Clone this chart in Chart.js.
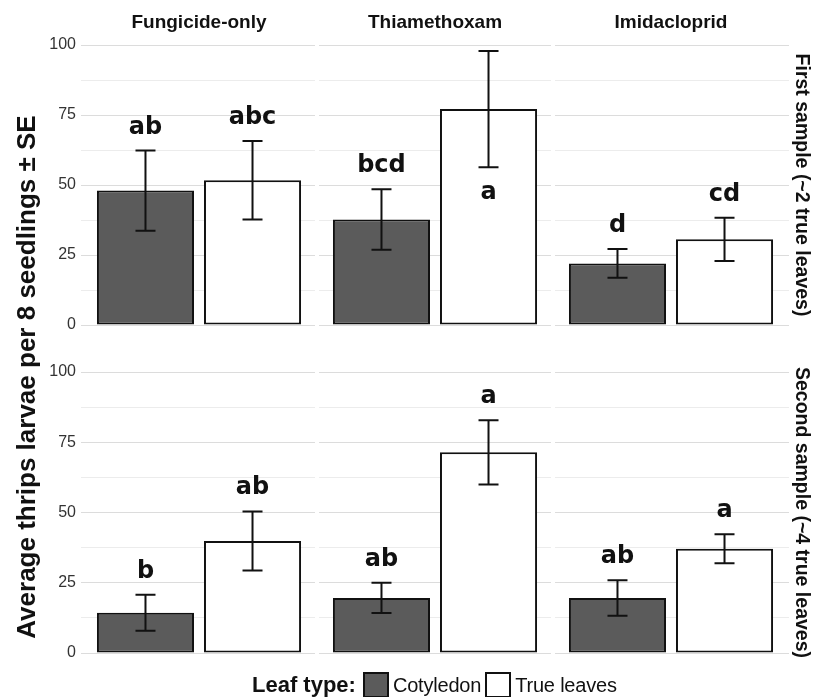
<!DOCTYPE html>
<html>
<head>
<meta charset="utf-8">
<script src="https://cdn.jsdelivr.net/npm/chart.js@4.4.1/dist/chart.umd.min.js"></script>
<style>
  body { margin: 0; background: #fff; }
  #wrap { position: relative; width: 813px; height: 697px; overflow: hidden; background: #fff; font-family: "Liberation Sans", Arial, sans-serif; color: #111; }
  #top { position: absolute; left: 0; top: 0; }
  #bottom { position: absolute; left: 0; top: 340px; }
  #ytitle { position: absolute; width: 640px; left: -294px; top: 363px; height: 28px; line-height: 28px; text-align: center; font-weight: bold; font-size: 26px; transform: rotate(-90deg); transform-origin: center; }
  #legend { position: absolute; left: 252px; top: 672px; display: flex; align-items: center; height: 26px; }
  #legend .ttl { font-weight: bold; font-size: 22px; margin-right: 7px; }
  #legend .box { width: 22px; height: 22px; border: 2px solid #111; }
  #legend .lab { font-size: 20px; margin: 0 4px 0 4px; letter-spacing: -0.2px; }
</style>
</head>
<body>
<div id="wrap">
  <canvas id="top" width="813" height="340"></canvas>
  <canvas id="bottom" width="813" height="357"></canvas>
  <div id="ytitle">Average thrips larvae per 8 seedlings ± SE</div>
  <div id="legend">
    <span class="ttl">Leaf type:</span>
    <span class="box" style="background:#5b5b5b"></span><span class="lab">Cotyledon</span>
    <span class="box" style="background:#fff"></span><span class="lab">True leaves</span>
  </div>
</div>
<script>
// datos
const panels = ['Fungicide-only', 'Thiamethoxam', 'Imidacloprid'];
const leafTypes = ['Cotyledon', 'True leaves'];
const yTicks = [0, 25, 50, 75, 100];

// primer muestreo (~2 hojas)
const firstCot = [48.0, 37.7, 22.0];
const firstCotSE = [14.3, 10.8, 5.1];
const firstTrue = [51.7, 77.1, 30.6];
const firstTrueSE = [14.0, 20.8, 7.7];
const firstCotLetters = ['ab', 'bcd', 'd'];
const firstTrueLetters = ['abc', 'a', 'cd'];

// segundo muestreo (~4 hojas)
const secondCot = [14.3, 19.6, 19.6];
const secondCotSE = [6.4, 5.4, 6.3];
const secondTrue = [39.9, 71.4, 37.1];
const secondTrueSE = [10.5, 11.4, 5.2];
const secondCotLetters = ['b', 'ab', 'ab'];
const secondTrueLetters = ['ab', 'a', 'a'];

const darkFill = '#5b5b5b';

// barras de error, letras y separacion entre paneles
const extras = {
  id: 'extras',
  beforeDatasetsDraw(chart) {
    const ctx = chart.ctx, x = chart.scales.x, area = chart.chartArea;
    ctx.save();
    ctx.fillStyle = '#fff';
    for (let j = 0; j < panels.length - 1; j++) {
      const mid = (x.getPixelForValue(j) + x.getPixelForValue(j + 1)) / 2;
      ctx.fillRect(mid - 2, area.top - 2, 4, area.bottom - area.top + 4);
    }
    ctx.restore();
  },
  afterDatasetsDraw(chart, args, opts) {
    const ctx = chart.ctx, y = chart.scales.y, area = chart.chartArea;
    ctx.save();
    chart.data.datasets.forEach((ds, i) => {
      const meta = chart.getDatasetMeta(i);
      meta.data.forEach((bar, j) => {
        const v = ds.data[j], se = opts.se[i][j];
        const hi = y.getPixelForValue(v + se), lo = y.getPixelForValue(v - se);
        ctx.strokeStyle = '#111';
        ctx.lineWidth = 2;
        ctx.beginPath();
        ctx.moveTo(bar.x, hi); ctx.lineTo(bar.x, lo);
        ctx.moveTo(bar.x - 10, hi); ctx.lineTo(bar.x + 10, hi);
        ctx.moveTo(bar.x - 10, lo); ctx.lineTo(bar.x + 10, lo);
        ctx.stroke();

        ctx.fillStyle = '#111';
        ctx.font = 'bold 24px "DejaVu Sans"';
        ctx.textAlign = 'center';
        ctx.textBaseline = 'alphabetic';
        let ly = hi - 17;
        if (ly - 20 < area.top) ly = lo + 32; // no cabe arriba
        ctx.fillText(opts.letters[i][j], bar.x, ly);
      });
    });
    ctx.restore();
  }
};

function gridColor(c) {
  return c.tick && c.tick.value % 25 === 0 ? '#dcdcdc' : '#ececec';
}

function makeChart(id, cot, tru, se, letters, stripText, showTitles, padding) {
  return new Chart(document.getElementById(id), {
    type: 'bar',
    data: {
      labels: panels,
      datasets: [
        { label: leafTypes[0], data: cot, backgroundColor: darkFill, borderColor: '#111', borderWidth: 2, borderSkipped: false },
        { label: leafTypes[1], data: tru, backgroundColor: '#fff', borderColor: '#111', borderWidth: 2, borderSkipped: false }
      ]
    },
    plugins: [extras],
    options: {
      responsive: false,
      animation: false,
      layout: { padding: padding },
      categoryPercentage: 0.907,
      barPercentage: 0.907,
      plugins: {
        legend: { display: false },
        tooltip: { enabled: false },
        extras: { se: se, letters: letters }
      },
      scales: {
        x: {
          display: showTitles,
          position: 'top',
          grid: { display: false },
          border: { display: false },
          ticks: { color: '#111', padding: 3, font: { family: 'Liberation Sans', size: 19, weight: 'bold' } },
          afterFit: s => { if (showTitles) s.height = 45; }
        },
        y: {
          min: 0, max: 100,
          grid: { color: gridColor, lineWidth: 1, drawTicks: false },
          border: { display: false },
          ticks: {
            stepSize: 12.5, autoSkip: false, padding: 5, color: '#333',
            font: { family: 'Liberation Sans', size: 16 },
            callback: v => yTicks.includes(v) ? String(v) : ''
          },
          afterFit: s => { s.width = 81; }
        },
        yr: {
          type: 'linear', position: 'right', axis: 'y',
          min: 0, max: 100,
          grid: { display: false },
          border: { display: false },
          ticks: { display: false },
          title: { display: true, text: stripText, color: '#111', padding: 0, font: { family: 'Liberation Sans', size: 19.5, weight: 'bold' } },
          afterFit: s => { s.width = 24; }
        }
      }
    }
  });
}

makeChart('top', firstCot, firstTrue, [firstCotSE, firstTrueSE], [firstCotLetters, firstTrueLetters],
  'First sample (~2 true leaves)', true, { top: 0, bottom: 15, left: 0, right: 0 });
makeChart('bottom', secondCot, secondTrue, [secondCotSE, secondTrueSE], [secondCotLetters, secondTrueLetters],
  'Second sample (~4 true leaves)', false, { top: 32, bottom: 44, left: 0, right: 0 });
</script>
</body>
</html>
